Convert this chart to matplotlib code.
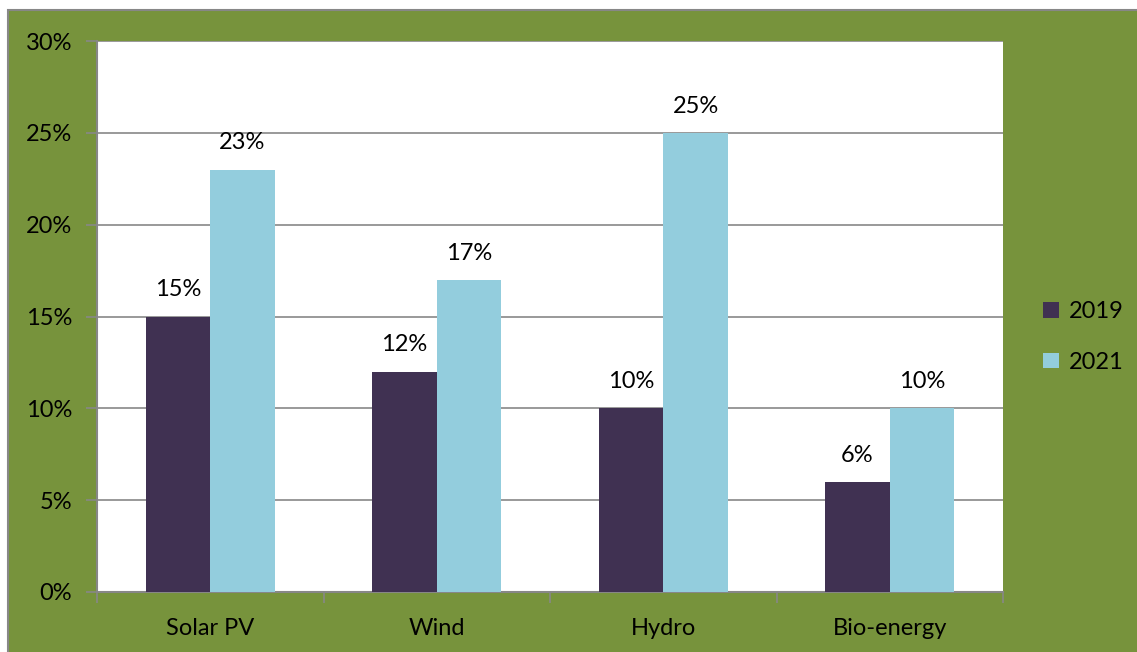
import matplotlib.pyplot as plt
import numpy as np
from matplotlib.patches import Rectangle

categories = ['Solar PV', 'Wind', 'Hydro', 'Bio-energy']
share_2019 = [15, 12, 10, 6]
share_2021 = [23, 17, 25, 10]
series_labels = ['2019', '2021']
yticks = [0, 5, 10, 15, 20, 25, 30]

green = '#77933C'
purple = '#403152'
blue = '#93CDDD'
grey = '#878787'

plt.rcParams['font.family'] = ['Lato', 'DejaVu Sans']
FS = 17

W, H = 1137, 652
fig = plt.figure(figsize=(W / 100, H / 100), dpi=100)
fig.patch.set_facecolor('white')
# green chart frame, outlined in grey on its top and left edges
frame = Rectangle((8 / W, -0.1), 1.2, 1.1 - 10 / H, transform=fig.transFigure,
                  facecolor=green, edgecolor=grey, linewidth=1.5, zorder=-10)
fig.patches.append(frame)

ax = fig.add_axes([97 / W, 1 - 592 / H, (1003 - 97) / W, (592 - 41) / H])
ax.set_zorder(1)
ax.set_facecolor('white')

x = np.arange(len(categories))
width = 0.285
b1 = ax.bar(x - width / 2, share_2019, width, color=purple, label=series_labels[0], zorder=3)
b2 = ax.bar(x + width / 2, share_2021, width, color=blue, label=series_labels[1], zorder=3)

for bars, vals in ((b1, share_2019), (b2, share_2021)):
    for rect, v in zip(bars, vals):
        ax.text(rect.get_x() + rect.get_width() / 2, v + 1.45, f'{v}%',
                ha='center', va='center', fontsize=FS, color='black')

ax.set_xlim(-0.5, len(categories) - 0.5)
ax.set_ylim(0, 30)
ax.set_yticks(yticks)
ax.set_yticklabels([f'{t}%' for t in yticks], fontsize=FS)
ax.yaxis.grid(True, color=grey, linewidth=1.2, zorder=0)
ax.set_axisbelow(True)

ax.set_xticks(np.arange(-0.5, len(categories), 1.0))
ax.set_xticklabels([])
ax.set_xticks(x, minor=True)
ax.set_xticklabels(categories, minor=True, fontsize=FS)
ax.tick_params(axis='x', which='minor', length=0, pad=19)
ax.tick_params(axis='x', which='major', length=8, color=grey, width=1.2)
ax.tick_params(axis='y', length=8, color=grey, width=1.2, pad=10)

for side in ('top', 'right'):
    ax.spines[side].set_visible(False)
for side in ('left', 'bottom'):
    ax.spines[side].set_color(grey)
    ax.spines[side].set_linewidth(1.5)

leg = fig.legend(handles=[b1, b2], labels=series_labels, loc='center left',
                 bbox_to_anchor=(1022 / W, 1 - 337 / H), frameon=False,
                 fontsize=FS, handlelength=0.65, handleheight=0.65,
                 labelspacing=1.25, handletextpad=0.45)

fig.savefig('out.png', dpi=100, facecolor=fig.get_facecolor())
